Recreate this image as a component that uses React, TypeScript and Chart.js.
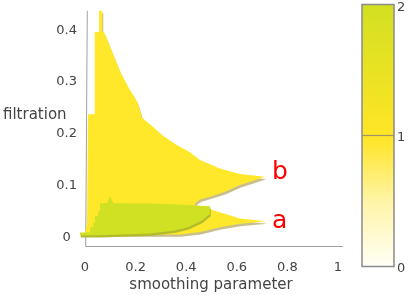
import { useEffect, useRef } from 'react';
import { Chart, registerables } from 'chart.js';

Chart.register(...registerables);

const xTickValues = [0, 0.2, 0.4, 0.6, 0.8, 1];
const xTickLabels = ['0', '0.2', '0.4', '0.6', '0.8', '1'];
const yTickValues = [0, 0.1, 0.2, 0.3, 0.4];
const yTickLabels = ['0', '0.1', '0.2', '0.3', '0.4'];
const colorbarValues = [0, 1, 2];
const colorbarLabels = ['0', '1', '2'];

// Level-1 region (one feature): outline of regions "b" and "a"
const level1X = [0, 0.0079, 0.0119, 0.0383, 0.0383, 0.0553, 0.0553, 0.0684, 0.0684, 0.0751, 0.0881, 0.1146, 0.1411, 0.1739, 0.2067, 0.2202, 0.2241, 0.2636, 0.3083, 0.3625, 0.415, 0.4545, 0.5336, 0.6126, 0.7115, 0.6719, 0.6126, 0.5534, 0.4941, 0.4545, 0.4348, 0.4348, 0.4941, 0.6126, 0.7154, 0.6126, 0.5336, 0.4545, 0.3755, 0.2964, 0];
const level1Y = [0.009, 0.0277, 0.2375, 0.2375, 0.3966, 0.3966, 0.4378, 0.4378, 0.3966, 0.3966, 0.3816, 0.3498, 0.318, 0.288, 0.2618, 0.2412, 0.2318, 0.2155, 0.1963, 0.1781, 0.1644, 0.1494, 0.1326, 0.1223, 0.1167, 0.1101, 0.1007, 0.0876, 0.0783, 0.0727, 0.0652, 0.0577, 0.0539, 0.0361, 0.0305, 0.0258, 0.0193, 0.0099, 0.0052, 0.0052, 0.0052];

// Level-2 region (two features)
const level2X = [-0.0198, 0.0198, 0.0198, 0.0328, 0.0328, 0.0395, 0.0395, 0.0514, 0.0514, 0.0593, 0.0593, 0.087, 0.0988, 0.1107, 0.2569, 0.3755, 0.4941, 0.4941, 0.4613, 0.4071, 0.3557, 0.2569, 0.0593, -0.0198];
const level2Y = [0.009, 0.009, 0.0189, 0.0189, 0.0283, 0.0283, 0.0408, 0.0408, 0.0502, 0.0502, 0.0657, 0.0657, 0.0801, 0.0657, 0.0652, 0.0633, 0.0596, 0.0446, 0.0315, 0.0189, 0.0127, 0.0071, 0.0034, 0.0034];

const regionLabels = ['b', 'a'];
const regionLabelX = [0.739, 0.739];
const regionLabelY = [0.112, 0.0184];

const FONT = '"DejaVu Sans", Verdana, sans-serif';
const TEXT = '#444444';
const YELLOW = '#ffe82a';
const GREEN = '#d0e023';
const YELLOW_SHADOW = '#c9bf8e';
const GREEN_SHADOW = '#b3ba2c';

const toPoints = (xs: number[], ys: number[], dx = 0, dy = 0) =>
  xs.map((x, i) => ({ x: x + dx, y: ys[i] + dy }));

const polygon = (data: any[], color: string) => ({
  data,
  showLine: true,
  fill: 'shape',
  backgroundColor: color,
  borderColor: 'rgba(0,0,0,0)',
  borderWidth: 0,
  pointRadius: 0,
  tension: 0,
});

const decorPlugin = {
  id: 'decor',
  beforeDatasetsDraw(chart: any) {
    const { ctx, chartArea, scales } = chart;
    const x0 = scales.x.getPixelForValue(0);
    ctx.save();
    ctx.strokeStyle = '#a0a0a0';
    ctx.lineWidth = 1;
    ctx.beginPath();
    ctx.moveTo(x0 + 2.3, chartArea.top + 1);
    ctx.lineTo(x0 + 0.7, chartArea.bottom - 0.5);
    ctx.lineTo(chartArea.right, chartArea.bottom - 0.5);
    ctx.stroke();
    ctx.restore();
  },
  afterDraw(chart: any) {
    const { ctx, scales } = chart;
    ctx.save();
    // y-axis title (horizontal)
    ctx.fillStyle = TEXT;
    ctx.font = `15px ${FONT}`;
    ctx.textAlign = 'left';
    ctx.textBaseline = 'middle';
    ctx.fillText('filtration', 3, 115);

    // region labels
    ctx.fillStyle = '#ff0000';
    ctx.font = `25px ${FONT}`;
    ctx.textBaseline = 'alphabetic';
    regionLabels.forEach((t, i) => {
      ctx.fillText(t, scales.x.getPixelForValue(regionLabelX[i]), scales.y.getPixelForValue(regionLabelY[i]));
    });

    // colorbar
    const cx0 = 362, cx1 = 394, cy0 = 4.5, cy1 = 266.5;
    const vmax = colorbarValues[colorbarValues.length - 1];
    const g = ctx.createLinearGradient(0, cy1, 0, cy0);
    g.addColorStop(0, '#fffff6');
    g.addColorStop(0.25, '#fff4a6');
    g.addColorStop(0.47, '#ffe630');
    g.addColorStop(0.5, '#ffe526');
    g.addColorStop(1, '#d2e021');
    ctx.fillStyle = g;
    ctx.fillRect(cx0, cy0, cx1 - cx0, cy1 - cy0);
    ctx.strokeStyle = '#8a8a8a';
    ctx.lineWidth = 1.5;
    ctx.strokeRect(cx0, cy0, cx1 - cx0, cy1 - cy0);
    const ymid = cy1 - (1 / vmax) * (cy1 - cy0);
    ctx.lineWidth = 1.2;
    ctx.strokeStyle = '#9a9468';
    ctx.beginPath();
    ctx.moveTo(cx0, ymid);
    ctx.lineTo(cx1, ymid);
    ctx.stroke();
    ctx.fillStyle = TEXT;
    ctx.font = `13px ${FONT}`;
    ctx.textAlign = 'left';
    ctx.textBaseline = 'middle';
    colorbarValues.forEach((v, i) => {
      const y = cy1 - (v / vmax) * (cy1 - cy0);
      ctx.fillText(colorbarLabels[i], 397, Math.max(y + 2, 8));
    });
    ctx.restore();
  },
};

export default function App() {
  const ref = useRef<HTMLCanvasElement | null>(null);
  useEffect(() => {
    if (!ref.current) return;
    const chart = new Chart(ref.current, {
      type: 'scatter',
      data: {
        datasets: [
          polygon(toPoints(level2X, level2Y), GREEN),
          polygon(toPoints(level2X, level2Y, 0.003, -0.0042), GREEN_SHADOW),
          polygon(toPoints(level1X, level1Y), YELLOW),
          polygon(toPoints(level1X, level1Y, 0.004, -0.0047), YELLOW_SHADOW),
        ] as any,
      },
      options: {
        animation: false,
        responsive: false,
        maintainAspectRatio: false,
        layout: { padding: { left: 0, top: 2, right: 65, bottom: 0 } },
        plugins: { legend: { display: false }, tooltip: { enabled: false } },
        scales: {
          x: {
            type: 'linear',
            min: -0.0237,
            max: 1.0198,
            grid: { display: false, drawTicks: false },
            border: { display: false },
            afterBuildTicks: (s: any) => { s.ticks = xTickValues.map((v) => ({ value: v })); },
            afterFit: (s: any) => { s.height = 48; },
            ticks: {
              padding: 13,
              color: TEXT,
              font: { family: FONT, size: 13 },
              maxRotation: 0,
              autoSkip: false,
              callback: (v: any) => {
                const i = xTickValues.findIndex((t) => Math.abs(t - v) < 1e-6);
                return i >= 0 ? xTickLabels[i] : '';
              },
            },
            title: {
              display: true,
              text: 'smoothing parameter',
              color: TEXT,
              font: { family: FONT, size: 15 },
              padding: { top: 0, bottom: 1 },
            },
          },
          y: {
            type: 'linear',
            min: -0.0191,
            max: 0.4397,
            grid: { display: false, drawTicks: false },
            border: { display: false },
            afterBuildTicks: (s: any) => { s.ticks = yTickValues.map((v) => ({ value: v })); },
            afterFit: (s: any) => { s.width = 79; },
            ticks: {
              padding: 2,
              crossAlign: 'center',
              color: TEXT,
              font: { family: FONT, size: 13 },
              autoSkip: false,
              callback: (v: any) => {
                const i = yTickValues.findIndex((t) => Math.abs(t - v) < 1e-6);
                return i >= 0 ? yTickLabels[i] : '';
              },
            },
          },
        },
      },
      plugins: [decorPlugin],
    });
    return () => chart.destroy();
  }, []);
  return (
    <div style={{ position: 'fixed', left: 0, top: 0, width: 408, height: 295, background: '#fff' }}>
      <canvas ref={ref} width={408} height={295} style={{ display: 'block' }} />
    </div>
  );
}
